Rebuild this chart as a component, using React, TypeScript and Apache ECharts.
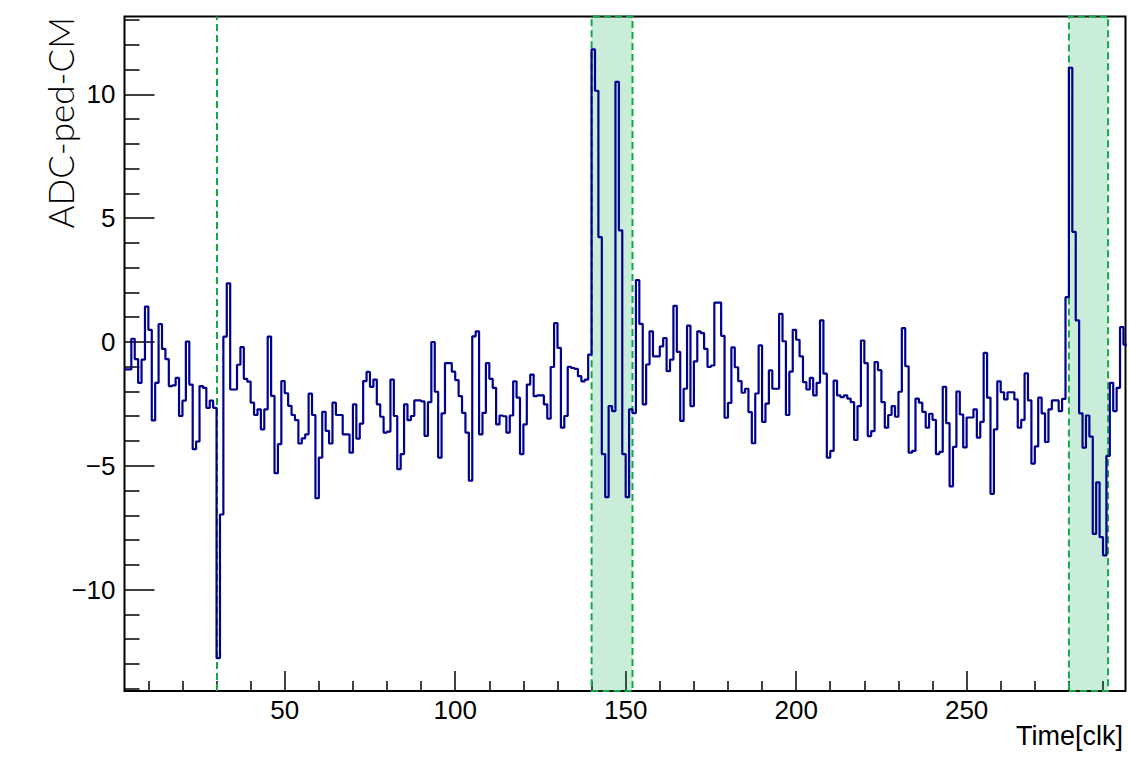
import React, { useEffect, useRef } from "react";
import * as echarts from "echarts";

// ---------------- data (1-clk bins, first bin starts at clk 3) ----------------
const FIRST_BIN = 3;

const adcBins003to052 = [
  -1.11, -1.11, 0.13, -0.69, -1.65, -0.71, 1.43, 0.49, -3.17, -1.65,
  0.72, -0.28, -0.69, -1.78, -1.75, -1.45, -2.99, -2.37, 0.02, -1.72,
  -4.33, -4.02, -1.78, -1.85, -2.66, -2.37, -2.66, -12.77, -6.97, 0.22,
  2.37, -1.92, -1.92, -0.92, -0.21, -1.49, -1.6, -2.45, -2.95, -2.72,
  -3.53, -2.72, 0.22, -2.18, -5.3, -4.13, -1.58, -2.07, -2.58, -2.95,
];
const adcBins053to102 = [
  -3.16, -4.1, -3.89, -3.73, -2.09, -2.95, -6.31, -4.67, -2.82, -3.59,
  -4.1, -2.45, -2.95, -2.95, -3.73, -3.73, -4.47, -2.52, -3.9, -3.3,
  -1.58, -1.21, -1.81, -1.52, -2.52, -3.02, -3.66, -3.62, -1.52, -2.99,
  -5.14, -4.53, -2.52, -3.16, -2.99, -2.36, -2.36, -2.4, -3.79, -2.43,
  0.0, -2.01, -4.67, -2.88, -0.85, -0.85, -1.2, -1.54, -2.19, -2.86,
];
const adcBins103to152 = [
  -3.66, -5.6, 0.23, 0.43, -3.73, -2.86, -0.85, -1.49, -1.85, -3.33,
  -2.97, -3.0, -3.66, -2.97, -1.59, -2.25, -4.53, -3.33, -1.72, -1.32,
  -2.19, -2.16, -2.16, -2.52, -3.1, -1.01, 0.76, -0.24, -3.46, -2.99,
  -1.0, -1.05, -1.09, -1.38, -1.59, -1.52, -0.51, 11.82, 10.15, 4.24,
  -4.53, -6.27, -2.59, -2.79, 10.51, 4.51, -4.53, -6.27, -2.72, -2.87,
];
const adcBins153to202 = [
  2.5, 0.73, -2.52, -0.91, 0.43, -0.58, -0.58, -0.18, 0.16, -1.18,
  -0.71, 1.46, -0.4, -3.19, -1.89, 0.66, -2.59, -0.78, 0.43, 0.36,
  -0.28, -1.01, -0.95, 1.59, 1.59, 0.25, -3.06, -2.46, -0.22, -1.02,
  -1.58, -2.05, -1.89, -2.83, -4.09, -2.08, -0.14, -3.23, -2.49, -1.15,
  -1.89, -1.89, 1.14, 0.03, -2.95, -1.2, 0.49, 0.09, -0.58, -1.62,
];
const adcBins203to252 = [
  -1.92, -1.45, -2.16, -1.65, 0.87, -1.28, -4.67, -4.4, -1.56, -2.16,
  -2.23, -2.16, -2.29, -2.43, -3.96, -2.59, 0.06, -0.85, -3.8, -3.6,
  -0.81, -1.14, -2.43, -3.46, -2.95, -2.59, -3.02, -2.01, 0.56, -0.98,
  -4.47, -4.4, -2.29, -2.45, -2.82, -3.46, -2.9, -3.15, -4.53, -4.44,
  -1.81, -3.28, -5.83, -4.24, -2.0, -2.93, -4.26, -3.05, -3.05, -2.72,
];
const adcBins253to296 = [
  -3.86, -3.23, -0.44, -2.25, -6.14, -3.53, -1.59, -2.03, -2.32, -2.03,
  -2.03, -2.32, -3.46, -3.15, -1.27, -2.36, -4.91, -4.22, -2.25, -2.88,
  -4.04, -2.72, -2.36, -2.36, -2.79, -2.3, 1.81, 11.08, 4.45, 0.87,
  -2.88, -4.27, -2.97, -3.82, -7.75, -5.67, -7.88, -8.62, -4.6, -1.65,
  -2.79, -1.85, 0.6, -0.11,
];

const markerLines = [30];
const windowStarts = [140, 280];
const windowEnds = [152, 291.5];

const xMajorTicks = [50, 100, 150, 200, 250];
const xMinorTicks = [10, 20, 30, 40, 60, 70, 80, 90, 110, 120, 130, 140, 160, 170, 180, 190, 210, 220, 230, 240, 260, 270, 280, 290];
const yMajorTicks = [-10, -5, 0, 5, 10];
const yMinorTicks = [-14, -13, -12, -11, -9, -8, -7, -6, -4, -3, -2, -1, 1, 2, 3, 4, 6, 7, 8, 9, 11, 12, 13];

const X_MIN = 3;
const X_MAX = 296.6;
const Y_MIN = -14.1;
const Y_MAX = 13.15;

const xTitle = "Time[clk]";
const yTitle = "ADC-ped-CM";

// ---------------- component ----------------
const FONT = "'Liberation Sans', Arial, Helvetica, sans-serif";
const GREEN = "#12a84a";

export default function App() {
  const ref = useRef<HTMLDivElement>(null);

  useEffect(() => {
    if (!ref.current) return;
    const chart = echarts.init(ref.current, undefined, { renderer: "svg" });

    const values = [
      ...adcBins003to052,
      ...adcBins053to102,
      ...adcBins103to152,
      ...adcBins153to202,
      ...adcBins203to252,
      ...adcBins253to296,
    ];
    const points: [number, number][] = values.map((v, i) => [FIRST_BIN + i, v]);
    points.push([FIRST_BIN + values.length, values[values.length - 1]]);

    const minusFmt = (v: number) => String(v).replace("-", "\u2212");

    const tickStyle = { color: "#000", width: 1.5 };

    chart.setOption({
      animation: false,
      backgroundColor: "#ffffff",
      textStyle: { fontFamily: FONT },
      grid: {
        left: 124.5,
        right: 3.5,
        top: 16.5,
        bottom: 87,
        show: true,
        borderColor: "#000",
        borderWidth: 2,
        backgroundColor: "transparent",
        containLabel: false,
      },
      xAxis: [
        {
          type: "value",
          min: X_MIN,
          max: X_MAX,
          position: "bottom",
          axisLine: { show: false, onZero: false },
          splitLine: { show: false },
          axisTick: {
            show: true,
            inside: true,
            length: 20,
            customValues: xMajorTicks,
            lineStyle: tickStyle,
          },
          axisLabel: {
            show: true,
            customValues: xMajorTicks,
            fontSize: 26,
            lineHeight: 26,
            fontFamily: FONT,
            color: "#000",
            margin: 6,
          },
        },
        {
          type: "value",
          min: X_MIN,
          max: X_MAX,
          position: "bottom",
          offset: 0,
          axisLine: { show: false, onZero: false },
          splitLine: { show: false },
          axisLabel: { show: false },
          axisTick: {
            show: true,
            inside: true,
            length: 10,
            customValues: xMinorTicks,
            lineStyle: tickStyle,
          },
        },
      ],
      yAxis: [
        {
          type: "value",
          min: Y_MIN,
          max: Y_MAX,
          position: "left",
          axisLine: { show: false, onZero: false },
          splitLine: { show: false },
          axisTick: {
            show: true,
            inside: true,
            length: 30,
            customValues: yMajorTicks,
            lineStyle: tickStyle,
          },
          axisLabel: {
            show: true,
            customValues: yMajorTicks,
            formatter: minusFmt,
            fontSize: 26,
            lineHeight: 26,
            fontFamily: FONT,
            color: "#000",
            margin: 9,
          },
        },
        {
          type: "value",
          min: Y_MIN,
          max: Y_MAX,
          position: "left",
          offset: 0,
          axisLine: { show: false, onZero: false },
          splitLine: { show: false },
          axisLabel: { show: false },
          axisTick: {
            show: true,
            inside: true,
            length: 15,
            customValues: yMinorTicks,
            lineStyle: tickStyle,
          },
        },
      ],
      series: [
        {
          type: "line",
          xAxisIndex: 0,
          yAxisIndex: 0,
          step: "end",
          symbol: "none",
          clip: true,
          data: points,
          lineStyle: { color: "#00008f", width: 2.2 },
          silent: true,
          z: 5,
          markArea: {
            silent: true,
            itemStyle: {
              color: "rgba(0,170,70,0.21)",
              borderColor: GREEN,
              borderWidth: 2,
              borderType: [7, 4],
            },
            label: { show: false },
            data: windowStarts.map((s, i) => [{ xAxis: s }, { xAxis: windowEnds[i] }]),
          },
          markLine: {
            silent: true,
            symbol: ["none", "none"],
            label: { show: false },
            lineStyle: { color: GREEN, width: 2, type: [7, 4] },
            data: markerLines.map((x) => ({ xAxis: x })),
          },
        },
      ],
      graphic: [
        {
          type: "text",
          x: 1123,
          y: 736,
          style: {
            text: xTitle,
            fontSize: 27,
            fontFamily: FONT,
            fill: "#000",
            align: "right",
            verticalAlign: "middle",
            textAlign: "right",
            textVerticalAlign: "middle",
          },
        },
        {
          type: "text",
          x: 60,
          y: 17,
          rotation: Math.PI / 2,
          style: {
            text: yTitle,
            fontSize: 35,
            fontFamily: "Lato, 'Liberation Sans', sans-serif",
            fontWeight: 300,
            fill: "#000",
            align: "right",
            verticalAlign: "middle",
            textAlign: "right",
            textVerticalAlign: "middle",
          },
        },
      ],
    });

    return () => chart.dispose();
  }, []);

  return (
    <div
      ref={ref}
      style={{ position: "fixed", left: 0, top: 0, width: 1129, height: 778, background: "#fff" }}
    />
  );
}
